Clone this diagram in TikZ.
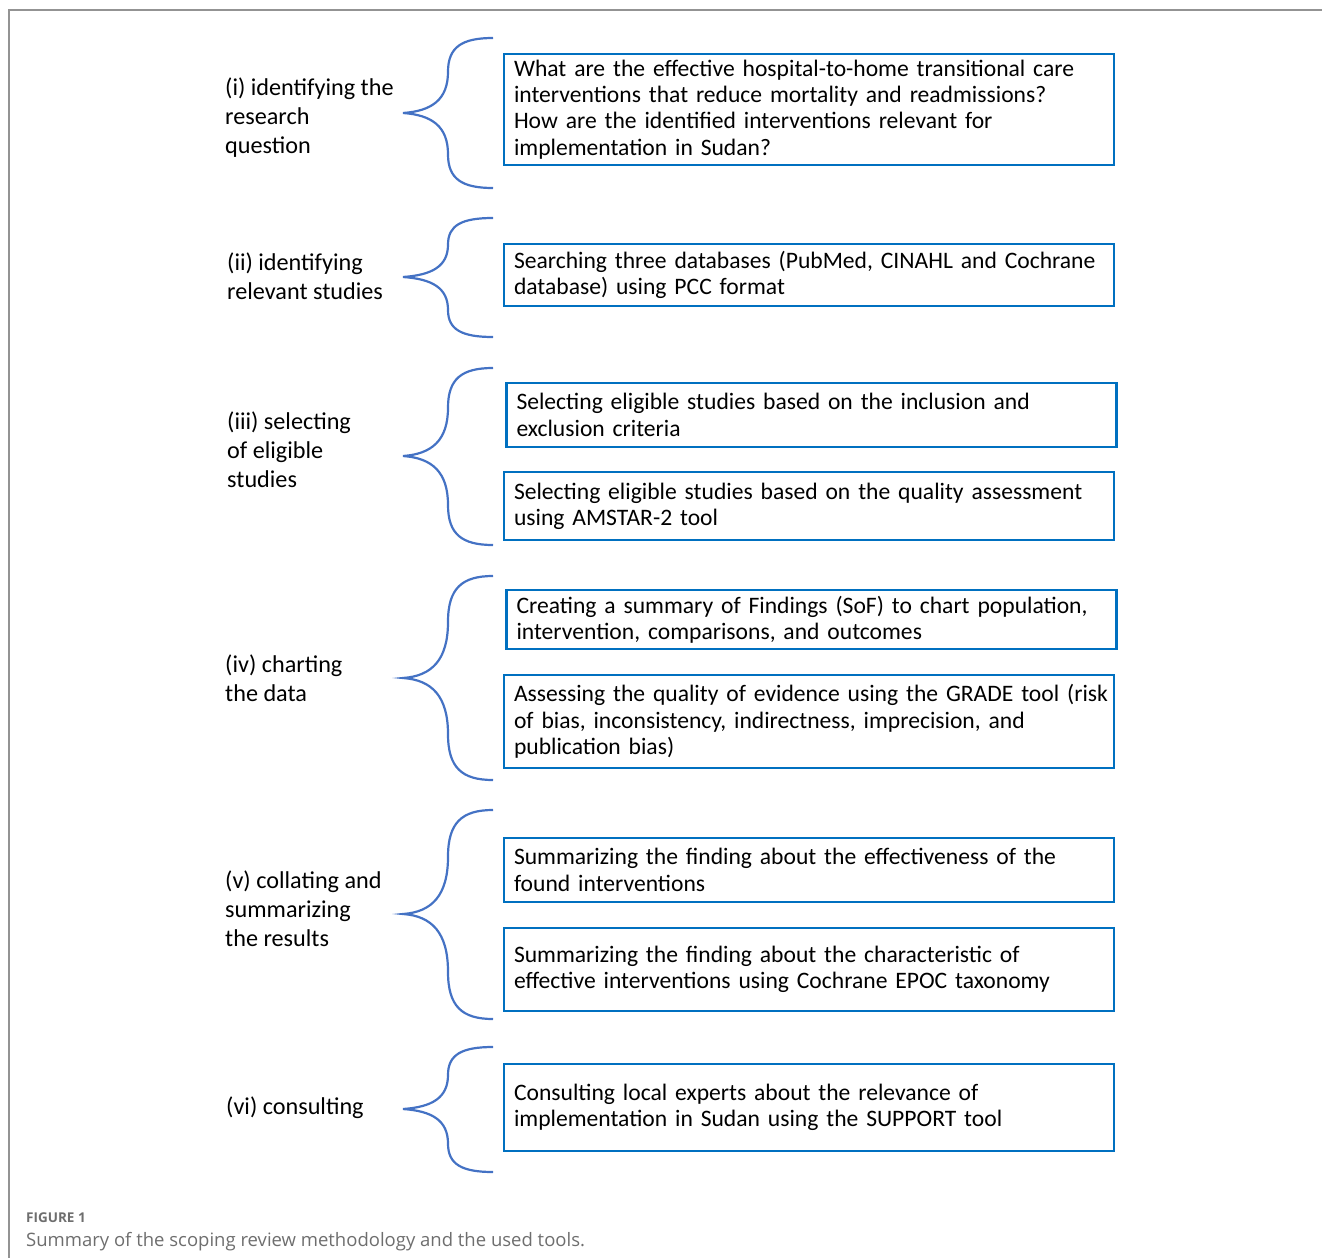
\documentclass[tikz,border=0pt]{standalone}
\usepackage{fontspec}
\setmainfont{Carlito}
\newfontfamily\capfont{Open Sans}
\definecolor{boxblue}{HTML}{0070C0}
\definecolor{braceblue}{HTML}{4472C4}
\definecolor{capgray}{HTML}{6E6E6E}
\newcommand\mybrace[3]{%
  \draw[brc] (493,#1) .. controls (462,#1) and (448,{#1+0.12*(#2-#1)}) .. (448,{#1+0.45*(#2-#1)})
    .. controls (448,{#2-0.18*(#2-#1)}) and (432,{#2-2}) .. (403,#2)
    .. controls (432,{#2+2}) and (448,{#2+0.18*(#3-#2)}) .. (448,{#2+0.55*(#3-#2)})
    .. controls (448,{#3-0.12*(#3-#2)}) and (462,#3) .. (493,#3);}
\begin{document}
\begin{tikzpicture}[x=1pt,y=-1pt,
  brc/.style={draw=braceblue,line width=2.2pt},
  bx/.style={draw=boxblue,line width=2.4pt,minimum width=610pt,text width=590pt,align=left,inner sep=0pt,
    font=\fontsize{23.6}{26.3}\selectfont},
  lbl/.style={anchor=west,align=left,inner sep=0pt,font=\fontsize{24.2}{29}\selectfont}]
\useasboundingbox (0,0) rectangle (1322,1258);
\draw[color=gray!85,line width=1.4pt] (1322,10) -- (9,10) -- (9,1258);
% labels
\node[lbl] (l1) at (225,118) {(i) identifying the\\research\\question};
\node[lbl] (l2) at (227,276.5) {(ii) identifying\\relevant studies};
\node[lbl] (l3) at (227,450) {(iii) selecting\\of eligible\\studies};
\node[lbl] (l4) at (225,678.5) {(iv) charting\\the data};
\node[lbl] (l5) at (225,909) {(v) collating and\\summarizing\\the results};
\node[lbl] (l6) at (226,1108) {(vi) consulting};
% braces
\mybrace{38}{113}{188}
\mybrace{218}{277}{337}
\mybrace{368}{456}{545}
\mybrace{576}{678}{780}
\mybrace{810}{914}{1019}
\mybrace{1047}{1109}{1172}
% boxes
\node[bx,minimum height=111pt] (b1) at (809,109.5) {\mbox{What are the effective hospital-to-home transitional care}\\interventions that reduce mortality and readmissions?\\How are the identified interventions relevant for\\implementation in Sudan?};
\node[bx,minimum height=62pt] (b2) at (809,275) {\mbox{Searching three databases (PubMed, CINAHL and Cochrane}\\database) using PCC format};
\node[bx,minimum height=64pt] (b3a) at (811.5,415) {Selecting eligible studies based on the inclusion and\\exclusion criteria};
\node[bx,minimum height=68pt] (b3b) at (809,506) {\mbox{Selecting eligible studies based on the quality assessment}\\using AMSTAR-2 tool};
\node[bx,minimum height=59pt] (b4a) at (811.5,619.5) {\mbox{Creating a summary of Findings (SoF) to chart population,}\\intervention, comparisons, and outcomes};
\node[bx,minimum height=93pt] (b4b) at (809,721.5) {\mbox{Assessing the quality of evidence using the GRADE tool (risk}\\of bias, inconsistency, indirectness, imprecision, and\\publication bias)};
\node[bx,minimum height=64pt] (b5a) at (809,870) {Summarizing the finding about the effectiveness of the\\found interventions};
\node[bx,minimum height=83pt] (b5b) at (809,969.5) {Summarizing the finding about the characteristic of\\\mbox{effective interventions using Cochrane EPOC taxonomy}};
\node[bx,minimum height=87pt] (b6) at (809,1107.5) {Consulting local experts about the relevance of\\\mbox{implementation in Sudan using the SUPPORT tool}};
% caption
\node[anchor=west,inner sep=0pt,text=capgray,font=\capfont\fontsize{13.5}{16}\selectfont\bfseries] (cap1) at (26,1218) {FIGURE 1};
\node[anchor=west,inner sep=0pt,text=capgray,font=\capfont\fontsize{18.5}{22}\selectfont] (cap2) at (26,1242) {Summary of the scoping review methodology and the used tools.};
\end{tikzpicture}
\end{document}
